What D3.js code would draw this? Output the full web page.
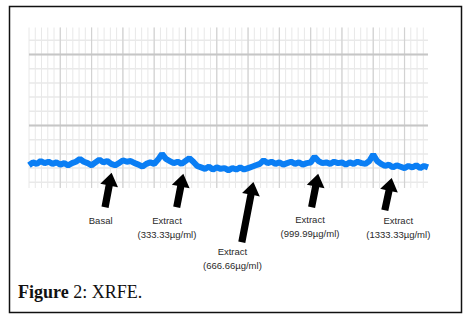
<!DOCTYPE html>
<html lang="en">
<head>
<meta charset="utf-8">
<script src="https://cdn.jsdelivr.net/npm/d3@7"></script>
<style type="text/css">
    body { margin: 0; background: #fff; }
    .label text { font-family: "Liberation Sans", Arial, sans-serif; font-size: 9.5px; fill: #2a2a2a; }
</style>
</head>
<body>
<script>
// trace sampled every 1/8 of a major grid division
let step = 0.125;
let signal = [
    0.44, 0.48, 0.46, 0.50, 0.47, 0.49, 0.46, 0.48, 0.45, 0.47,
    0.44, 0.47, 0.49, 0.53, 0.49, 0.47, 0.44, 0.48, 0.52, 0.48,
    0.50, 0.46, 0.44, 0.47, 0.51, 0.49, 0.50, 0.47, 0.45, 0.42,
    0.46, 0.48, 0.46, 0.52, 0.60, 0.53, 0.50, 0.47, 0.49, 0.46,
    0.50, 0.54, 0.49, 0.43, 0.41, 0.39, 0.42, 0.38, 0.41, 0.39,
    0.40, 0.37, 0.40, 0.38, 0.41, 0.38, 0.40, 0.42, 0.44, 0.46,
    0.51, 0.47, 0.49, 0.46, 0.48, 0.45, 0.47, 0.49, 0.46, 0.48,
    0.45, 0.47, 0.48, 0.56, 0.50, 0.47, 0.48, 0.46, 0.49, 0.47,
    0.48, 0.45, 0.48, 0.46, 0.49, 0.47, 0.46, 0.50, 0.59, 0.50,
    0.46, 0.43, 0.45, 0.41, 0.44, 0.42, 0.40, 0.43, 0.41, 0.44,
    0.40, 0.43, 0.41
];

// arrows: tip and tail in data units
let arrowTips = [[2.64, 0.335], [4.93, 0.321], [7.17, 0.206], [9.24, 0.321], [11.59, 0.262]];
let arrowTails = [[2.43, -0.151], [4.72, -0.151], [6.80, -0.644], [9.03, -0.151], [11.37, -0.193]];

let labelLines = [
    ["Basal"],
    ["Extract", "(333.33\u00b5g/ml)"],
    ["Extract", "(666.66\u00b5g/ml)"],
    ["Extract", "(999.99\u00b5g/ml)"],
    ["Extract", "(1333.33\u00b5g/ml)"]
];
let labelPos = [[2.29, -0.39], [4.41, -0.385], [6.50, -0.827], [8.98, -0.376], [11.80, -0.383]];

let w = 472;
let h = 320;

let svg = d3.select("body")
            .append("svg")
            .attr("width", w)
            .attr("height", h);

// frame
svg.append("rect")
    .attr("x", 9.5)
    .attr("y", 6.5)
    .attr("width", 452)
    .attr("height", 306)
    .attr("fill", "none")
    .attr("stroke", "#111")
    .attr("stroke-width", 1.5);

let xScale = d3.scaleLinear()
                .domain([0, 12.75])
                .range([29, 428]);

let yScale = d3.scaleLinear()
                .domain([0.12, 2.38])
                .range([188, 27.5]);

let grid = svg.append("g");

// minor grid
let minorX = d3.range(0, 12.76, 0.2);
let minorY = d3.range(0.2, 2.38, 0.2);

grid.selectAll(".vminor")
    .data(minorX)
    .enter()
    .append("line")
    .attr("x1", (d) => { return xScale(d); })
    .attr("x2", (d) => { return xScale(d); })
    .attr("y1", yScale.range()[1])
    .attr("y2", yScale.range()[0])
    .attr("stroke", "#e8e8e8")
    .attr("stroke-width", 1);

grid.selectAll(".hminor")
    .data(minorY)
    .enter()
    .append("line")
    .attr("x1", xScale.range()[0])
    .attr("x2", xScale.range()[1])
    .attr("y1", (d) => { return yScale(d); })
    .attr("y2", (d) => { return yScale(d); })
    .attr("stroke", "#e9e9e9")
    .attr("stroke-width", 1.5);

// major grid
grid.selectAll(".vmajor")
    .data(d3.range(1, 13))
    .enter()
    .append("line")
    .attr("x1", (d) => { return xScale(d); })
    .attr("x2", (d) => { return xScale(d); })
    .attr("y1", yScale.range()[1])
    .attr("y2", yScale.range()[0])
    .attr("stroke", "#d2d2d2")
    .attr("stroke-width", 1.2);

grid.selectAll(".hmajor")
    .data([1, 2])
    .enter()
    .append("line")
    .attr("x1", xScale.range()[0])
    .attr("x2", xScale.range()[1])
    .attr("y1", (d) => { return yScale(d); })
    .attr("y2", (d) => { return yScale(d); })
    .attr("stroke", "#c6c6c6")
    .attr("stroke-width", 2);

// trace
let line = d3.line()
    .x((d, i) => { return xScale(i * step); })
    .y((d) => { return yScale(d); });

svg.append("path")
    .datum(signal)
    .attr("d", line)
    .attr("fill", "none")
    .attr("stroke", "#0a7ef4")
    .attr("stroke-width", 6)
    .attr("stroke-linejoin", "bevel");

// arrows
let arrowPath = (tip, tail) => {
    let x1 = xScale(tail[0]), y1 = yScale(tail[1]);
    let x2 = xScale(tip[0]), y2 = yScale(tip[1]);
    let len = Math.hypot(x2 - x1, y2 - y1);
    let ux = (x2 - x1) / len, uy = (y2 - y1) / len;
    let nx = -uy, ny = ux;
    let head = 13, sw = 3.6, hw = 9;
    let bx = x2 - ux * head, by = y2 - uy * head;
    let pts = [
        [x1 + nx * sw, y1 + ny * sw],
        [bx + nx * sw, by + ny * sw],
        [bx + nx * hw, by + ny * hw],
        [x2, y2],
        [bx - nx * hw, by - ny * hw],
        [bx - nx * sw, by - ny * sw],
        [x1 - nx * sw, y1 - ny * sw]
    ];
    return "M" + pts.map((p) => { return p[0].toFixed(1) + "," + p[1].toFixed(1); }).join("L") + "Z";
};

svg.selectAll(".arrow")
    .data(arrowTips)
    .enter()
    .append("path")
    .attr("d", (d, i) => { return arrowPath(d, arrowTails[i]); })
    .attr("fill", "#000");

// labels
let labels = svg.selectAll(".label")
    .data(labelLines)
    .enter()
    .append("g")
    .attr("class", "label");

labels.selectAll("text")
    .data((d, i) => { return d.map((t, j) => { return {t: t, i: i, j: j}; }); })
    .enter()
    .append("text")
    .attr("text-anchor", "middle")
    .attr("x", (d) => { return xScale(labelPos[d.i][0]); })
    .attr("y", (d) => { return yScale(labelPos[d.i][1]) + d.j * 14; })
    .text((d) => { return d.t; });

// caption
let cap = svg.append("text")
    .attr("x", 18)
    .attr("y", 298)
    .attr("font-family", "'Liberation Serif', 'DejaVu Serif', serif")
    .attr("font-size", "18px")
    .attr("fill", "#111");

cap.append("tspan").attr("font-weight", "bold").text("Figure");
cap.append("tspan").text(" 2: XRFE.");
</script>
</body>
</html>
